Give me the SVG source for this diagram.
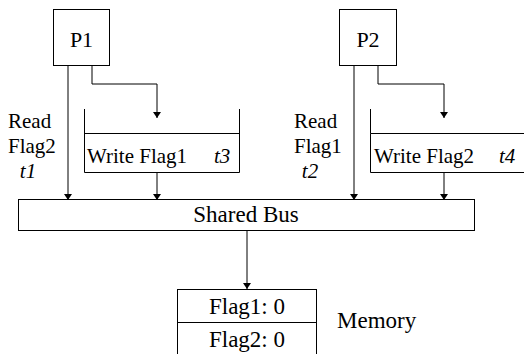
<svg xmlns="http://www.w3.org/2000/svg" width="524" height="354" viewBox="0 0 524 354">
<style>
.ln{fill:none;stroke:#000;stroke-width:1}
.bx{fill:#fff;stroke:#000;stroke-width:1}
.t{font-family:'Liberation Serif',serif;fill:#000}
.it{font-style:italic}
</style>
<defs>
<marker id="ah" viewBox="0 0 6 12" refX="6" refY="6" markerWidth="6" markerHeight="12" markerUnits="userSpaceOnUse" orient="auto">
<path d="M0,2 L6,6 L0,10 Z" fill="#000"/>
</marker>
</defs>
<rect width="524" height="354" fill="#fff"/>
<g id="connectors">
<line class="ln" x1="68" y1="65" x2="68" y2="200" marker-end="url(#ah)"/>
<polyline class="ln" points="92,65 92,84 157,84 157,118" marker-end="url(#ah)"/>
<line class="ln" x1="157" y1="172" x2="157" y2="200" marker-end="url(#ah)"/>
<line class="ln" x1="354" y1="65" x2="354" y2="200" marker-end="url(#ah)"/>
<polyline class="ln" points="378,65 378,84 444,84 444,118" marker-end="url(#ah)"/>
<line class="ln" x1="444" y1="172" x2="444" y2="200" marker-end="url(#ah)"/>
<line class="ln" x1="247" y1="231" x2="247" y2="289" marker-end="url(#ah)"/>
</g>
<g id="P1">
<rect class="bx" x="53.5" y="9.5" width="56" height="56"/>
<text class="t" x="81.5" y="47" font-size="22" text-anchor="middle">P1</text>
</g>
<g id="P2">
<rect class="bx" x="339.5" y="9.5" width="57" height="56"/>
<text class="t" x="368" y="47" font-size="22" text-anchor="middle">P2</text>
</g>
<g id="label-read-flag2">
<text class="t" x="8" y="128" font-size="21">Read</text>
<text class="t" x="8" y="153" font-size="21">Flag2</text>
<text class="t it" x="28" y="178" font-size="21" text-anchor="middle">t1</text>
</g>
<g id="label-read-flag1">
<text class="t" x="294" y="128" font-size="21">Read</text>
<text class="t" x="294" y="153" font-size="21">Flag1</text>
<text class="t it" x="310" y="178" font-size="21" text-anchor="middle">t2</text>
</g>
<g id="buffer1">
<polyline class="ln" points="84.5,109 84.5,172.5 239.5,172.5 239.5,109"/>
<line class="ln" x1="84.5" y1="133.5" x2="239.5" y2="133.5"/>
<text class="t" x="87" y="163" font-size="21">Write Flag1</text>
<text class="t it" x="214" y="163" font-size="21">t3</text>
</g>
<g id="buffer2">
<polyline class="ln" points="524,133.5 370.5,133.5 370.5,109"/>
<polyline class="ln" points="370.5,133.5 370.5,172.5 524,172.5"/>
<text class="t" x="374" y="163" font-size="21">Write Flag2</text>
<text class="t it" x="499" y="163" font-size="21">t4</text>
</g>
<g id="bus">
<rect class="bx" x="18.5" y="199.5" width="456" height="31"/>
<text class="t" x="246" y="222" font-size="23" text-anchor="middle">Shared Bus</text>
</g>
<g id="memory">
<rect class="bx" x="177.5" y="289.5" width="139" height="80"/>
<line class="ln" x1="177.5" y1="322.5" x2="316.5" y2="322.5"/>
<text class="t" x="247" y="314" font-size="23" text-anchor="middle">Flag1: 0</text>
<text class="t" x="247" y="347" font-size="23" text-anchor="middle">Flag2: 0</text>
<text class="t" x="337" y="328" font-size="23">Memory</text>
</g>
</svg>
